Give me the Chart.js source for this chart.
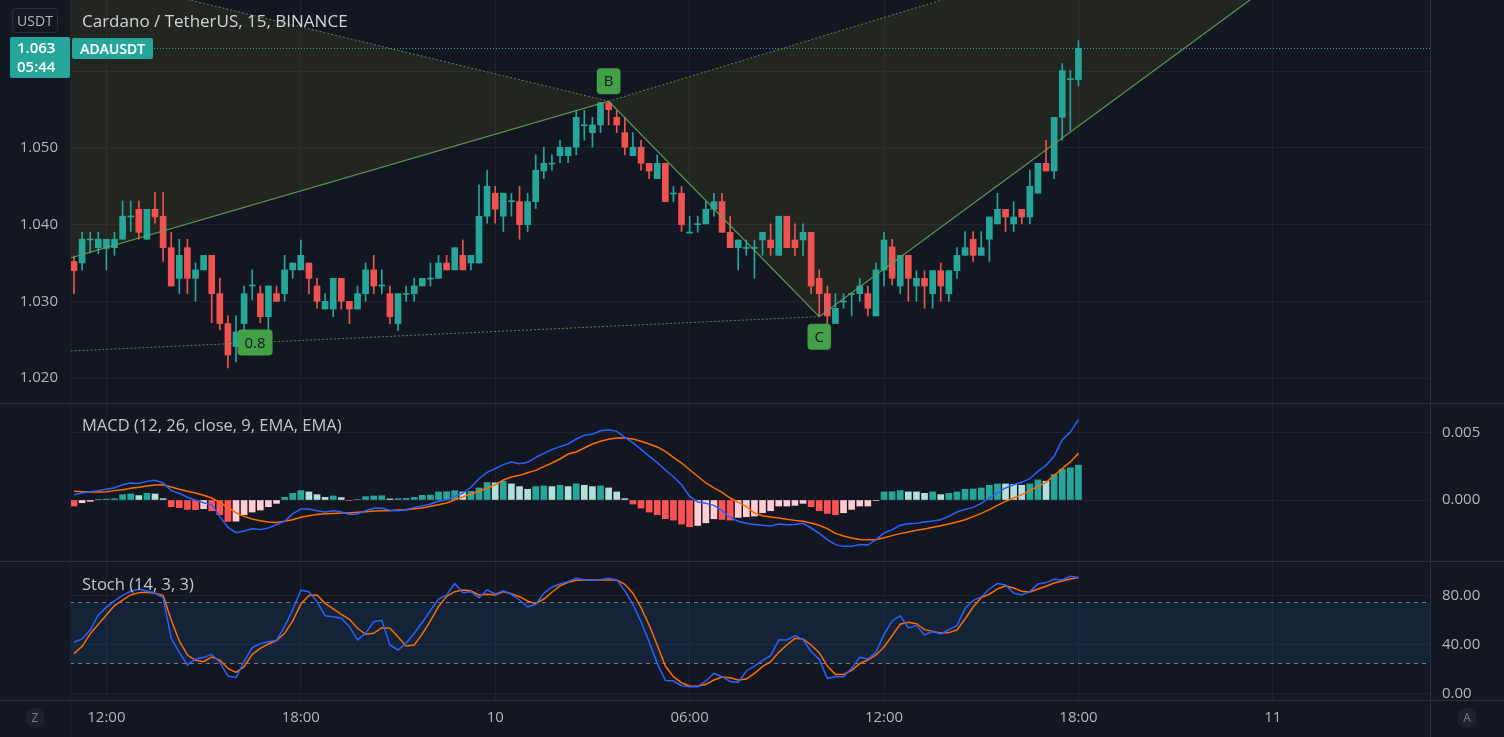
<!DOCTYPE html>
<html lang="en">
<head>
<meta charset="UTF-8">
<meta name="viewport" content="width=device-width, initial-scale=1.0">
<title>Cardano / TetherUS, 15, BINANCE</title>
<script src="https://cdn.jsdelivr.net/npm/chart.js@4.4.1/dist/chart.umd.min.js"></script>
<style>
  html, body { margin: 0; padding: 0; background: #131722; overflow: hidden; }
  #wrap { position: relative; width: 1504px; height: 737px; font-family: 'Open Sans', 'Noto Sans', sans-serif; }
  #wrap canvas { position: absolute; left: 0; }
  .lbl { position: absolute; white-space: nowrap; }
  .sep { position: absolute; background: #2a2e39; }
</style>
</head>
<body>
<div id="wrap">
  <canvas id="priceChart" width="1504" height="403" style="top:0;width:1504px;height:403px"></canvas>
  <canvas id="macdChart" width="1504" height="157" style="top:404px;width:1504px;height:157px"></canvas>
  <canvas id="stochChart" width="1504" height="175" style="top:562px;width:1504px;height:175px"></canvas>

  <div class="sep" style="left:0;top:403px;width:1504px;height:1px"></div>
  <div class="sep" style="left:0;top:561px;width:1504px;height:1px"></div>
  <div class="sep" style="left:0;top:700px;width:1504px;height:1px"></div>
  <div class="sep" style="left:70px;top:0;width:1px;height:737px;background:#1f2330"></div>
  <div class="sep" style="left:1430px;top:0;width:1px;height:737px"></div>

  <div class="lbl" style="left:12px;top:8px;width:44px;height:23px;border:1px solid #2a2e39;border-radius:4px;color:#b2b5be;font-size:14px;line-height:23px;text-align:center">USDT</div>
  <div class="lbl" style="left:82px;top:9px;color:#d1d4dc;font-size:17px">Cardano / TetherUS, 15, BINANCE</div>
  <div class="lbl" style="left:10px;top:37px;width:60px;height:41px;padding-left:7px;padding-top:1px;box-sizing:border-box;background:#26a69a;border-radius:2px;color:#fff;font-size:15px;font-weight:600;line-height:19px">1.063<br>05:44</div>
  <div class="lbl" style="left:72px;top:38px;width:81px;height:21px;background:#26a69a;border-radius:2px;color:#fff;font-size:14px;font-weight:600;line-height:21px;text-align:center">ADAUSDT</div>
  <div class="lbl" style="left:82px;top:413px;color:#c3c6ce;font-size:16.5px">MACD (12, 26, close, 9, EMA, EMA)</div>
  <div class="lbl" style="left:82px;top:572px;color:#c3c6ce;font-size:16.5px">Stoch (14, 3, 3)</div>
  <div class="lbl" style="left:25px;top:708px;width:20px;height:20px;border-radius:10px;background:#1e222d;color:#787b86;font-size:12px;line-height:20px;text-align:center">Z</div>
  <div class="lbl" style="left:1457px;top:708px;width:20px;height:20px;border-radius:10px;background:#1e222d;color:#787b86;font-size:12px;line-height:20px;text-align:center">A</div>
</div>

<script>
// ---- data: ADAUSDT 15m candles, slot 0 = 11:00 on the 9th ----
const OPEN = [
  1.0352,1.0350,1.0380,1.0370,1.0369,1.0370,1.0381,1.0410,1.0420,1.0381,
  1.0420,1.0411,1.0370,1.0330,1.0370,1.0330,1.0341,1.0360,1.0310,1.0271,
  1.0241,1.0271,1.0320,1.0310,1.0280,1.0310,1.0310,1.0341,1.0341,1.0350,
  1.0320,1.0290,1.0290,1.0330,1.0300,1.0290,1.0310,1.0341,1.0320,1.0310,
  1.0271,1.0309,1.0310,1.0320,1.0329,1.0330,1.0350,1.0341,1.0360,1.0350,
  1.0350,1.0411,1.0441,1.0411,1.0430,1.0430,1.0400,1.0430,1.0470,1.0479,
  1.0490,1.0490,1.0501,1.0529,1.0520,1.0530,1.0559,1.0540,1.0520,1.0490,
  1.0501,1.0480,1.0460,1.0480,1.0440,1.0441,1.0389,1.0400,1.0401,1.0420,
  1.0430,1.0390,1.0370,1.0369,1.0369,1.0380,1.0380,1.0360,1.0411,1.0380,
  1.0380,1.0390,1.0330,1.0310,1.0271,1.0299,1.0309,1.0310,1.0310,1.0281,
  1.0341,1.0371,1.0320,1.0360,1.0320,1.0330,1.0310,1.0340,1.0310,1.0340,
  1.0360,1.0381,1.0360,1.0381,1.0401,1.0420,1.0401,1.0420,1.0410,1.0441,
  1.0480,1.0470,1.0540,1.0589,1.0589
];
const HIGH = [
  1.0359,1.0390,1.0390,1.0390,1.0381,1.0390,1.0431,1.0431,1.0431,1.0420,
  1.0442,1.0442,1.0390,1.0381,1.0381,1.0350,1.0360,1.0360,1.0330,1.0281,
  1.0281,1.0320,1.0341,1.0320,1.0320,1.0320,1.0360,1.0350,1.0380,1.0350,
  1.0330,1.0310,1.0330,1.0330,1.0300,1.0320,1.0350,1.0360,1.0341,1.0320,
  1.0310,1.0320,1.0330,1.0330,1.0350,1.0360,1.0360,1.0370,1.0380,1.0360,
  1.0452,1.0471,1.0450,1.0441,1.0441,1.0450,1.0441,1.0491,1.0501,1.0491,
  1.0510,1.0501,1.0549,1.0549,1.0540,1.0559,1.0560,1.0549,1.0540,1.0520,
  1.0510,1.0480,1.0491,1.0480,1.0450,1.0450,1.0411,1.0411,1.0430,1.0441,
  1.0441,1.0411,1.0380,1.0380,1.0380,1.0390,1.0401,1.0411,1.0411,1.0401,
  1.0401,1.0390,1.0341,1.0320,1.0310,1.0310,1.0310,1.0330,1.0320,1.0350,
  1.0390,1.0381,1.0360,1.0360,1.0340,1.0340,1.0340,1.0350,1.0340,1.0370,
  1.0391,1.0391,1.0391,1.0410,1.0441,1.0420,1.0430,1.0420,1.0471,1.0480,
  1.0510,1.0540,1.0610,1.0601,1.0640
];
const LOW = [
  1.0310,1.0341,1.0363,1.0362,1.0341,1.0360,1.0381,1.0391,1.0381,1.0381,
  1.0402,1.0352,1.0320,1.0310,1.0310,1.0300,1.0341,1.0272,1.0263,1.0213,
  1.0221,1.0263,1.0302,1.0272,1.0263,1.0300,1.0300,1.0330,1.0341,1.0310,
  1.0291,1.0290,1.0280,1.0290,1.0271,1.0290,1.0300,1.0310,1.0310,1.0271,
  1.0262,1.0300,1.0300,1.0320,1.0320,1.0330,1.0341,1.0341,1.0341,1.0341,
  1.0350,1.0402,1.0402,1.0391,1.0411,1.0381,1.0391,1.0421,1.0460,1.0471,
  1.0481,1.0481,1.0491,1.0510,1.0501,1.0520,1.0530,1.0520,1.0491,1.0490,
  1.0471,1.0460,1.0460,1.0430,1.0430,1.0391,1.0389,1.0390,1.0401,1.0411,
  1.0390,1.0370,1.0341,1.0360,1.0330,1.0360,1.0360,1.0360,1.0370,1.0360,
  1.0360,1.0310,1.0281,1.0271,1.0271,1.0291,1.0281,1.0300,1.0281,1.0281,
  1.0320,1.0321,1.0310,1.0300,1.0300,1.0291,1.0291,1.0300,1.0300,1.0330,
  1.0360,1.0352,1.0360,1.0352,1.0401,1.0391,1.0391,1.0401,1.0401,1.0441,
  1.0470,1.0460,1.0510,1.0523,1.0581
];
const CLOSE = [
  1.0340,1.0381,1.0381,1.0381,1.0381,1.0381,1.0411,1.0411,1.0390,1.0420,
  1.0410,1.0370,1.0320,1.0360,1.0330,1.0341,1.0360,1.0310,1.0271,1.0230,
  1.0260,1.0310,1.0321,1.0280,1.0320,1.0300,1.0341,1.0350,1.0360,1.0330,
  1.0300,1.0300,1.0330,1.0300,1.0290,1.0310,1.0341,1.0320,1.0321,1.0280,
  1.0310,1.0310,1.0320,1.0330,1.0330,1.0350,1.0341,1.0370,1.0341,1.0360,
  1.0411,1.0450,1.0420,1.0441,1.0431,1.0400,1.0430,1.0471,1.0480,1.0480,
  1.0501,1.0501,1.0540,1.0530,1.0530,1.0559,1.0550,1.0530,1.0501,1.0501,
  1.0480,1.0470,1.0480,1.0430,1.0441,1.0400,1.0390,1.0401,1.0420,1.0430,
  1.0390,1.0370,1.0380,1.0370,1.0370,1.0390,1.0370,1.0411,1.0370,1.0370,
  1.0390,1.0320,1.0310,1.0281,1.0291,1.0300,1.0310,1.0320,1.0291,1.0341,
  1.0380,1.0330,1.0360,1.0330,1.0330,1.0320,1.0340,1.0320,1.0340,1.0360,
  1.0370,1.0360,1.0370,1.0410,1.0420,1.0410,1.0410,1.0410,1.0450,1.0480,
  1.0470,1.0540,1.0601,1.0590,1.0630
];

// MACD (12, 26, close, 9)
const MACD_LINE = [
  0.00040,0.00052,0.00062,0.00070,0.00080,0.00092,0.00114,0.00127,0.00124,0.00139,
  0.00147,0.00127,0.00070,0.00050,0.00020,-0.00002,-0.00020,-0.00035,-0.00122,-0.00204,
  -0.00244,-0.00231,-0.00214,-0.00221,-0.00209,-0.00184,-0.00159,-0.00104,-0.00067,-0.00067,
  -0.00080,-0.00090,-0.00080,-0.00090,-0.00109,-0.00104,-0.00080,-0.00062,-0.00060,-0.00077,
  -0.00080,-0.00072,-0.00055,-0.00045,-0.00030,-0.00010,0.00002,0.00025,0.00052,0.00095,
  0.00159,0.00206,0.00234,0.00264,0.00284,0.00271,0.00281,0.00318,0.00348,0.00376,
  0.00398,0.00418,0.00455,0.00483,0.00490,0.00517,0.00525,0.00512,0.00468,0.00428,
  0.00378,0.00328,0.00279,0.00224,0.00174,0.00114,0.00027,-0.00015,-0.00025,-0.00040,
  -0.00080,-0.00129,-0.00159,-0.00174,-0.00182,-0.00189,-0.00194,-0.00179,-0.00184,-0.00182,
  -0.00174,-0.00209,-0.00249,-0.00296,-0.00333,-0.00346,-0.00346,-0.00333,-0.00336,-0.00296,
  -0.00246,-0.00221,-0.00189,-0.00177,-0.00174,-0.00164,-0.00157,-0.00147,-0.00122,-0.00090,
  -0.00070,-0.00055,-0.00025,0.00015,0.00052,0.00090,0.00114,0.00132,0.00159,0.00214,
  0.00259,0.00326,0.00450,0.00507,0.00600
];
const SIGNAL_LINE = [
  0.00065,0.00062,0.00060,0.00060,0.00062,0.00070,0.00077,0.00087,0.00095,0.00104,
  0.00112,0.00114,0.00097,0.00080,0.00065,0.00052,0.00035,0.00015,-0.00017,-0.00055,
  -0.00095,-0.00122,-0.00142,-0.00154,-0.00164,-0.00167,-0.00159,-0.00147,-0.00129,-0.00117,
  -0.00109,-0.00102,-0.00100,-0.00097,-0.00097,-0.00092,-0.00087,-0.00082,-0.00080,-0.00080,
  -0.00075,-0.00072,-0.00065,-0.00060,-0.00047,-0.00035,-0.00022,0.00002,0.00022,0.00045,
  0.00065,0.00090,0.00114,0.00149,0.00172,0.00184,0.00204,0.00221,0.00249,0.00276,
  0.00306,0.00343,0.00358,0.00388,0.00418,0.00438,0.00453,0.00463,0.00463,0.00455,
  0.00438,0.00418,0.00396,0.00363,0.00318,0.00276,0.00226,0.00177,0.00127,0.00090,
  0.00057,0.00015,-0.00017,-0.00047,-0.00097,-0.00117,-0.00127,-0.00134,-0.00144,-0.00152,
  -0.00159,-0.00172,-0.00189,-0.00214,-0.00249,-0.00269,-0.00284,-0.00294,-0.00296,-0.00296,
  -0.00281,-0.00266,-0.00251,-0.00239,-0.00226,-0.00216,-0.00204,-0.00192,-0.00179,-0.00164,
  -0.00147,-0.00124,-0.00100,-0.00072,-0.00040,-0.00010,0.00015,0.00040,0.00070,0.00102,
  0.00132,0.00182,0.00234,0.00284,0.00348
];
const MACD_HIST = [
  -0.00045,-0.00020,-0.00010,0.00005,0.00007,0.00010,0.00040,0.00045,0.00033,0.00050,
  0.00045,0.00010,-0.00050,-0.00057,-0.00070,-0.00072,-0.00065,-0.00080,-0.00110,-0.00160,
  -0.00158,-0.00110,-0.00090,-0.00075,-0.00050,-0.00025,0.00020,0.00050,0.00070,0.00060,
  0.00040,0.00020,0.00030,0.00018,-0.00003,0.00003,0.00025,0.00030,0.00032,0.00008,
  0.00010,0.00012,0.00020,0.00035,0.00037,0.00060,0.00062,0.00070,0.00060,0.00065,
  0.00090,0.00130,0.00128,0.00140,0.00120,0.00100,0.00080,0.00100,0.00105,0.00100,
  0.00110,0.00100,0.00120,0.00110,0.00100,0.00105,0.00090,0.00060,0.00010,-0.00030,
  -0.00060,-0.00090,-0.00110,-0.00140,-0.00150,-0.00180,-0.00200,-0.00190,-0.00170,-0.00140,
  -0.00145,-0.00150,-0.00130,-0.00125,-0.00120,-0.00095,-0.00080,-0.00045,-0.00045,-0.00040,
  -0.00025,-0.00050,-0.00080,-0.00100,-0.00110,-0.00095,-0.00070,-0.00045,-0.00045,-0.00003,
  0.00060,0.00062,0.00070,0.00060,0.00060,0.00050,0.00060,0.00040,0.00050,0.00060,
  0.00080,0.00082,0.00090,0.00110,0.00120,0.00120,0.00117,0.00110,0.00120,0.00150,
  0.00140,0.00190,0.00230,0.00240,0.00260
];

// Stoch (14, 3, 3)
const STOCH_K = [
  41.8,44.5,51.8,64.1,70.3,75.5,80.1,83.4,85.0,83.7,
  82.0,78.2,45.0,33.6,23.3,28.2,29.3,32.0,25.4,14.3,
  12.9,26.0,37.4,40.7,42.3,43.4,54.6,68.2,84.2,83.1,
  75.0,63.5,62.7,61.4,54.6,43.7,49.1,58.6,59.7,39.6,
  35.5,41.0,49.1,58.1,67.6,77.1,80.4,89.7,82.3,83.1,
  78.2,84.5,81.0,83.7,81.0,76.3,70.6,72.8,81.8,86.7,
  89.4,91.3,94.0,92.9,92.4,92.9,94.0,92.7,83.7,72.8,
  58.6,42.3,24.6,10.7,10.2,6.4,5.6,5.6,10.2,16.5,
  13.7,9.7,9.1,18.4,22.4,27.1,30.9,43.7,43.7,47.2,
  43.9,34.1,27.9,12.4,13.7,13.7,20.5,29.5,28.2,33.6,
  48.3,59.2,63.5,53.5,55.4,47.8,50.5,48.6,52.1,55.4,
  69.5,75.8,78.8,85.3,89.7,88.6,82.0,80.4,83.1,89.4,
  90.5,93.2,92.7,95.6,94.6
];
const STOCH_D = [
  32.5,38.5,48.6,56.5,64.1,71.7,76.1,80.4,82.3,82.6,
  81.8,80.1,60.0,42.9,31.4,27.1,26.0,29.8,27.3,20.5,
  17.3,21.9,32.0,36.9,40.4,43.1,49.1,59.2,72.8,79.9,
  80.4,73.6,69.0,64.6,60.5,53.2,48.3,49.1,53.7,53.2,
  46.4,38.8,39.6,48.6,59.2,70.9,79.3,83.1,84.5,83.7,
  80.4,81.0,80.4,83.1,81.5,79.0,75.5,73.3,77.1,82.6,
  87.8,90.8,92.4,92.7,92.7,92.7,92.7,92.7,89.1,81.8,
  70.1,55.9,39.6,22.4,13.7,8.8,6.1,5.9,7.5,11.0,
  13.5,12.9,11.0,11.8,16.5,21.9,26.0,33.6,39.6,45.0,
  44.5,39.6,33.3,22.4,15.6,15.6,18.9,24.4,27.3,31.4,
  37.9,47.2,56.5,58.1,57.0,52.1,50.7,49.4,49.7,51.8,
  60.8,70.6,78.2,81.0,85.3,87.8,86.1,83.4,82.9,85.3,
  87.5,90.2,91.8,93.5,94.6
];
const STOCH_BANDS = [75, 25];

// axis ticks
const TIME_TICK_INDEX = [4, 28, 52, 76, 100, 124, 148];
const TIME_TICK_LABELS = ['12:00', '18:00', '10', '06:00', '12:00', '18:00', '11'];
const PRICE_TICKS = [1.02, 1.03, 1.04, 1.05, 1.06];
const PRICE_TICK_LABELS = ['1.020', '1.030', '1.040', '1.050', ''];
const MACD_TICKS = [0, 0.005];
const MACD_TICK_LABELS = ['0.000', '0.005'];
const STOCH_TICKS = [0, 40, 80];
const STOCH_TICK_LABELS = ['0.00', '40.00', '80.00'];

// ABC pattern drawing (slot index, price); X, A, D lie outside the visible range
const PATTERN_NAMES = ['X', 'A', 'B', 'C', 'D'];
const PATTERN_INDEX = [-70, -47.3, 66, 92, 171.95];
const PATTERN_PRICE = [1.0908, 1.02125, 1.0561, 1.0280, 1.0901];
const PATTERN_RATIO = '0.8';
const LAST_PRICE = 1.063;

// ---- look ----
const FONT = "'Open Sans', 'Noto Sans', sans-serif";
const TEXT = '#b2b5be';
const GRID = '#1f2330';
const UP = '#26a69a', DOWN = '#ef5350';
const X_MIN = -0.494, X_MAX = 167.4;
const TICK_FONT = { size: 15 };

Chart.defaults.font.family = FONT;

function timeAxis(showLabels) {
  return {
    type: 'linear', min: X_MIN, max: X_MAX, offset: false,
    grid: { color: GRID, drawTicks: false, offset: false },
    border: { display: false },
    afterBuildTicks: s => { s.ticks = TIME_TICK_INDEX.map(v => ({ value: v })); },
    ticks: {
      display: showLabels, color: TEXT, font: TICK_FONT, padding: 9,
      maxRotation: 0, autoSkip: false, callback: (v, i) => TIME_TICK_LABELS[i]
    },
    afterFit: s => { s.height = showLabels ? 37 : 0; s.paddingLeft = 0; s.paddingRight = 0; }
  };
}

function valueAxis(pos, min, max, ticks, labels, width) {
  return {
    type: 'linear', position: pos, min: min, max: max,
    grid: { color: GRID, drawTicks: false },
    border: { display: false },
    afterBuildTicks: s => { s.ticks = ticks.map(v => ({ value: v })); },
    ticks: { color: TEXT, font: TICK_FONT, padding: 12, callback: (v, i) => labels[i] },
    afterFit: s => { s.width = width; s.paddingTop = 0; s.paddingBottom = 0; }
  };
}

const baseOptions = {
  responsive: false, animation: false, events: [],
  plugins: { legend: { display: false }, tooltip: { enabled: false } }
};

// pattern fills, legs and labels on the price pane
function patternPixels(chart) {
  const { x, y } = chart.scales;
  const pts = {};
  PATTERN_NAMES.forEach((n, i) => { pts[n] = [x.getPixelForValue(PATTERN_INDEX[i]), y.getPixelForValue(PATTERN_PRICE[i])]; });
  return pts;
}

function tag(ctx, text, cx, cy) {
  ctx.font = '15px ' + FONT;
  const w = Math.max(20, ctx.measureText(text).width + 14), h = 26;
  ctx.fillStyle = '#43a047';
  ctx.beginPath();
  ctx.roundRect(cx - w / 2, cy - h / 2, w, h, 4);
  ctx.fill();
  ctx.fillStyle = '#131722';
  ctx.textAlign = 'center';
  ctx.textBaseline = 'middle';
  ctx.fillText(text, cx, cy + 1);
}

const patternPlugin = {
  id: 'abcPattern',
  beforeDatasetsDraw(chart) {
    const { ctx, chartArea: a } = chart;
    const p = patternPixels(chart);
    ctx.save();
    ctx.beginPath(); ctx.rect(a.left, a.top, a.right - a.left, a.bottom - a.top); ctx.clip();
    ctx.fillStyle = 'rgba(150,130,20,0.13)';
    [['X', 'A', 'B'], ['B', 'C', 'D']].forEach(tri => {
      ctx.beginPath();
      tri.forEach((k, j) => j ? ctx.lineTo(p[k][0], p[k][1]) : ctx.moveTo(p[k][0], p[k][1]));
      ctx.closePath();
      ctx.fill();
    });
    ctx.restore();
  },
  afterDatasetsDraw(chart) {
    const { ctx, chartArea: a, scales: { y } } = chart;
    const p = patternPixels(chart);
    ctx.save();
    ctx.beginPath(); ctx.rect(a.left, a.top, a.right - a.left, a.bottom - a.top); ctx.clip();

    // last price line
    const ly = Math.round(y.getPixelForValue(LAST_PRICE)) + 0.5;
    ctx.strokeStyle = '#26a69a'; ctx.lineWidth = 1; ctx.setLineDash([1, 2]);
    ctx.beginPath(); ctx.moveTo(a.left, ly); ctx.lineTo(a.right, ly); ctx.stroke();

    ctx.strokeStyle = 'rgba(110,170,100,0.75)';
    ctx.setLineDash([2, 2]);
    [['X', 'B'], ['A', 'C'], ['B', 'D']].forEach(([s, e]) => {
      ctx.beginPath(); ctx.moveTo(p[s][0], p[s][1]); ctx.lineTo(p[e][0], p[e][1]); ctx.stroke();
    });
    ctx.setLineDash([]);
    ctx.strokeStyle = 'rgba(95,165,90,0.9)';
    ctx.lineWidth = 1.2;
    ctx.beginPath();
    ['X', 'A', 'B', 'C', 'D'].forEach((k, j) => j ? ctx.lineTo(p[k][0], p[k][1]) : ctx.moveTo(p[k][0], p[k][1]));
    ctx.stroke();

    tag(ctx, 'B', p.B[0], p.B[1] - 20);
    tag(ctx, 'C', p.C[0], p.C[1] + 20);
    tag(ctx, PATTERN_RATIO, (p.A[0] + p.C[0]) / 2, (p.A[1] + p.C[1]) / 2);
    ctx.restore();
  }
};

// ---- price pane ----
const candleColors = OPEN.map((o, i) => CLOSE[i] >= o ? UP : DOWN);
new Chart(document.getElementById('priceChart'), {
  type: 'bar',
  data: {
    datasets: [
      {
        data: OPEN.map((o, i) => ({ x: i, y: [o, CLOSE[i]] })),
        backgroundColor: candleColors, borderWidth: 0, barThickness: 6,
        minBarLength: 1, grouped: false, order: 1
      },
      {
        data: OPEN.map((o, i) => ({ x: i, y: [LOW[i], HIGH[i]] })),
        backgroundColor: candleColors, borderWidth: 0, barThickness: 1,
        grouped: false, order: 2
      }
    ]
  },
  options: {
    ...baseOptions,
    layout: { padding: { left: 0, right: 74, top: 0, bottom: 0 } },
    scales: {
      x: timeAxis(false),
      y: valueAxis('left', 1.01674, 1.0693, PRICE_TICKS, PRICE_TICK_LABELS, 70)
    }
  },
  plugins: [patternPlugin]
});

// ---- MACD pane ----
const histColors = MACD_HIST.map((h, i) => {
  const prev = i ? MACD_HIST[i - 1] : 0;
  if (h >= 0) return h > prev ? '#26a69a' : '#b2dfdb';
  return h < prev ? '#ff5252' : '#ffcdd2';
});
new Chart(document.getElementById('macdChart'), {
  type: 'bar',
  data: {
    datasets: [
      {
        type: 'line', data: MACD_LINE.map((v, i) => ({ x: i, y: v })),
        borderColor: '#2962ff', borderWidth: 1.5, pointRadius: 0, tension: 0, order: 1
      },
      {
        type: 'line', data: SIGNAL_LINE.map((v, i) => ({ x: i, y: v })),
        borderColor: '#ff6d00', borderWidth: 1.5, pointRadius: 0, tension: 0, order: 1
      },
      {
        data: MACD_HIST.map((v, i) => ({ x: i, y: v })),
        backgroundColor: histColors, borderWidth: 0, barThickness: 6, grouped: false, order: 2
      }
    ]
  },
  options: {
    ...baseOptions,
    layout: { padding: { left: 70, right: 0, top: 0, bottom: 0 } },
    scales: {
      x: timeAxis(false),
      y: valueAxis('right', -0.004552, 0.007164, MACD_TICKS, MACD_TICK_LABELS, 74)
    }
  }
});

// ---- Stoch pane ----
const stochBandPlugin = {
  id: 'stochBand',
  beforeDatasetsDraw(chart) {
    const { ctx, chartArea: a, scales: { y } } = chart;
    const yU = Math.round(y.getPixelForValue(STOCH_BANDS[0])) + 0.5;
    const yL = Math.round(y.getPixelForValue(STOCH_BANDS[1])) + 0.5;
    ctx.save();
    ctx.fillStyle = 'rgba(33,150,243,0.1)';
    ctx.fillRect(a.left, yU, a.right - a.left, yL - yU);
    ctx.strokeStyle = '#787b86'; ctx.lineWidth = 1; ctx.setLineDash([4, 4]);
    [yU, yL].forEach(yy => { ctx.beginPath(); ctx.moveTo(a.left, yy); ctx.lineTo(a.right, yy); ctx.stroke(); });
    ctx.restore();
  }
};
new Chart(document.getElementById('stochChart'), {
  type: 'line',
  data: {
    datasets: [
      { data: STOCH_K.map((v, i) => ({ x: i, y: v })), borderColor: '#2962ff', borderWidth: 1.5, pointRadius: 0, tension: 0 },
      { data: STOCH_D.map((v, i) => ({ x: i, y: v })), borderColor: '#ff6d00', borderWidth: 1.5, pointRadius: 0, tension: 0 }
    ]
  },
  options: {
    ...baseOptions,
    layout: { padding: { left: 70, right: 0, top: 0, bottom: 0 } },
    scales: {
      x: timeAxis(true),
      y: valueAxis('right', -5.3, 107.3, STOCH_TICKS, STOCH_TICK_LABELS, 74)
    }
  },
  plugins: [stochBandPlugin]
});
</script>
</body>
</html>
